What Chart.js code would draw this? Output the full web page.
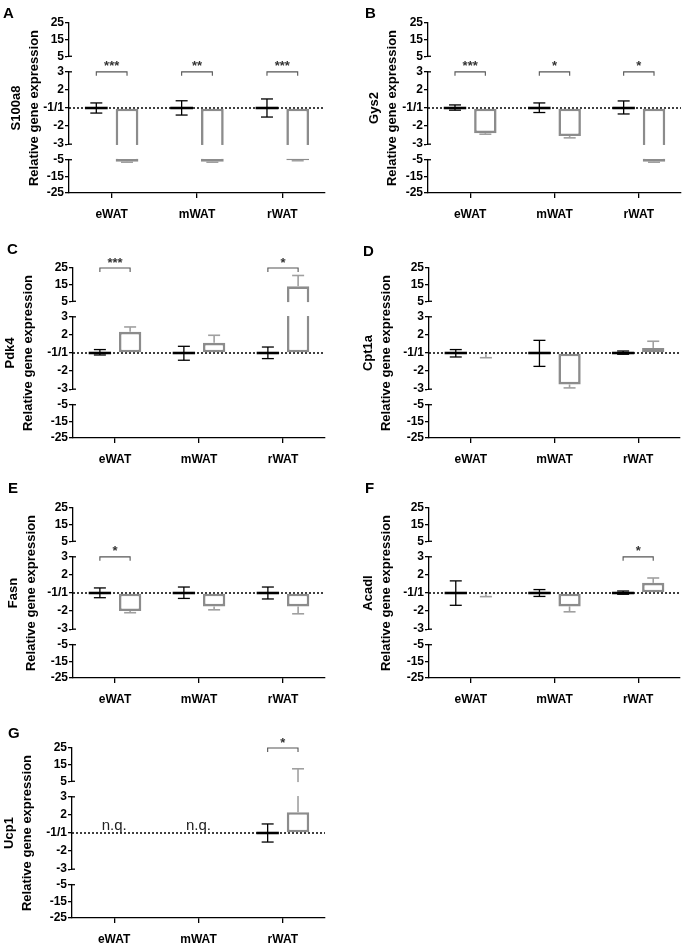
<!DOCTYPE html>
<html>
<head>
<meta charset="utf-8">
<script src="https://cdn.jsdelivr.net/npm/chart.js@4.4.1/dist/chart.umd.min.js"></script>
<style>
  body { margin: 0; background: #fff; width: 686px; height: 947px; overflow: hidden; position: relative; font-family: 'Liberation Sans', Arial, sans-serif; }
  canvas { position: absolute; }
  .letter { position: absolute; font-weight: bold; font-size: 15px; line-height: 15px; color: #000; }
</style>
</head>
<body>
<script>
const tissues = ['eWAT', 'mWAT', 'rWAT'];
const genes = ['S100a8', 'Gys2', 'Pdk4', 'Cpt1a', 'Fasn', 'Acadl', 'Ucp1'];
const letters = ['A', 'B', 'C', 'D', 'E', 'F', 'G'];
const yTicks = [25, 15, 5, 3, 2, 1, -2, -3, -5, -15, -25];

// control group (black): mean and error bar ends, fold change
const ctrlMean = [[1, 1, 1], [1, 1, 1], [1, 1, 1], [1, 1, 1], [1, 1, 1], [1, 1, 1], [null, null, 1]];
const ctrlUpper = [[1.28, 1.4, 1.5], [1.17, 1.28, 1.39], [1.19, 1.37, 1.33], [1.19, 1.7, 1.11], [1.28, 1.33, 1.33], [1.67, 1.19, 1.11], [null, null, 1.5]];
const ctrlLower = [[-1.28, -1.39, -1.5], [-1.12, -1.25, -1.33], [-1.11, -1.4, -1.31], [-1.22, -1.74, -1.07], [-1.26, -1.3, -1.33], [-1.68, -1.19, -1.07], [null, null, -1.5]];

// treated group (grey): mean and outer error bar end
const treatMean = [[-6.2, -6.2, -5.3], [-2.39, -2.55, -6.2], [2.17, 1.56, 14], [-1.07, -2.74, 1.28], [-2.0, -1.74, -1.74], [-1.07, -1.74, 1.56], [null, null, 2.15]];
const treatErr = [[-6.5, -6.5, -5.6], [-2.45, -2.65, -6.5], [2.44, 1.98, 20.5], [-1.26, -2.93, 1.65], [-2.09, -1.93, -2.15], [-1.2, -2.04, 1.83], [null, null, 12.5]];

const stars = [['***', '**', '***'], ['***', '*', '*'], ['***', '', '*'], ['', '', ''], ['*', '', ''], ['', '', '*'], ['', '', '*']];
const bracketAt = [3, 3, 25, null, 3, 3, 25];

// layout of the panels
const panelLeft = [0, 343, 0, 343, 0, 343, 0];
const panelTop = [0, 0, 245, 245, 485, 485, 725];
const axisX = [69, 85, 73, 86, 73, 86, 72];
const plotRight = [325, 338, 325, 337, 325, 337, 325];
const titleGap = [8, 23, 2, 17, 5, 17, 1];
const letterPos = [[3, 5], [365, 5], [7, 241], [363, 243], [8, 480], [365, 480], [8, 725]];

// broken axis: -3..3 linear (with -1/1 at 0), then 5..25 compressed
const BREAK_LOW = 2;
const BREAK_HIGH = 2.86;
const TOP_STEP = 0.092;
const AXIS_MAX = BREAK_HIGH + 20 * TOP_STEP;

function toAxis(v) {
    if (v === null) return null;
    const a = Math.abs(v), s = v < 0 ? -1 : 1;
    if (a <= 3) return s * (a - 1);
    return s * (BREAK_HIGH + (a - 5) * TOP_STEP);
}

function tickLabel(pos) {
    const v = yTicks.find(t => Math.abs(toAxis(t) - pos) < 1e-6);
    return v === 1 ? '-1/1' : String(v);
}

function seg(ctx, x1, y1, x2, y2) {
    ctx.beginPath(); ctx.moveTo(x1, y1); ctx.lineTo(x2, y2); ctx.stroke();
}

const extras = {
    id: 'extras',
    beforeDatasetsDraw(chart) {
        const { ctx, chartArea: a, scales: { y } } = chart;
        const y0 = y.getPixelForValue(0);
        ctx.save();
        ctx.strokeStyle = '#000';
        ctx.lineWidth = 1.5;
        ctx.setLineDash([2, 2]);
        seg(ctx, a.left, y0, a.right, y0);
        ctx.restore();
    },
    afterDatasetsDraw(chart, args, opts) {
        const p = opts.panel;
        const { ctx, chartArea: a, scales: { x, y } } = chart;
        const py = v => y.getPixelForValue(toAxis(v));
        const ctrlBars = chart.getDatasetMeta(0).data;
        const treatBars = chart.getDatasetMeta(1).data;
        ctx.save();

        // --- error bars ---
        tissues.forEach((t, i) => {
            if (ctrlMean[p][i] !== null) {
                const cx = ctrlBars[i].x;
                ctx.strokeStyle = '#000'; ctx.lineWidth = 1.3;
                const lo = py(ctrlLower[p][i]), hi = py(ctrlUpper[p][i]);
                seg(ctx, cx, lo, cx, hi);
                seg(ctx, cx - 6, lo, cx + 6, lo);
                seg(ctx, cx - 6, hi, cx + 6, hi);
            }
            if (treatMean[p][i] !== null) {
                const tx = treatBars[i].x;
                ctx.strokeStyle = '#a0a0a0'; ctx.lineWidth = 1.6;
                const m = py(treatMean[p][i]), e = py(treatErr[p][i]);
                seg(ctx, tx, m, tx, e);
                seg(ctx, tx - 6, e, tx + 6, e);
            }
        });

        // --- axis breaks ---
        ctx.fillStyle = '#fff';
        const bTop = y.getPixelForValue(BREAK_HIGH), bBot = y.getPixelForValue(BREAK_LOW);
        ctx.fillRect(a.left - 2, bTop + 0.8, a.right - a.left + 4, bBot - bTop - 1.6);
        const nTop = y.getPixelForValue(-BREAK_LOW), nBot = y.getPixelForValue(-BREAK_HIGH);
        ctx.fillRect(a.left - 2, nTop + 0.8, a.right - a.left + 4, nBot - nTop - 1.6);
        ctx.strokeStyle = '#000'; ctx.lineWidth = 1.3;
        [bTop, bBot, nTop, nBot].forEach(yy => seg(ctx, a.left - 1, yy, a.left + 3, yy));

        // --- significance brackets ---
        if (bracketAt[p] !== null) {
            const by = py(bracketAt[p]);
            tissues.forEach((t, i) => {
                if (!stars[p][i]) return;
                const x1 = ctrlBars[i].x, x2 = treatBars[i].x;
                ctx.strokeStyle = '#555'; ctx.lineWidth = 1.1;
                ctx.beginPath();
                ctx.moveTo(x1, by + 4); ctx.lineTo(x1, by); ctx.lineTo(x2, by); ctx.lineTo(x2, by + 4);
                ctx.stroke();
                ctx.fillStyle = '#333';
                ctx.font = "bold 13px 'Liberation Sans', Arial, sans-serif";
                ctx.textAlign = 'center';
                ctx.textBaseline = 'alphabetic';
                ctx.fillText(stars[p][i], (x1 + x2) / 2, by - 1.5);
            });
        }

        // --- not quantified ---
        tissues.forEach((t, i) => {
            if (ctrlMean[p][i] !== null) return;
            ctx.fillStyle = '#222';
            ctx.font = "15px 'Liberation Sans', Arial, sans-serif";
            ctx.textAlign = 'center';
            ctx.textBaseline = 'alphabetic';
            ctx.fillText('n.q.', x.getPixelForValue(i), y.getPixelForValue(0) - 3.5);
        });
        ctx.restore();
    }
};

Chart.defaults.font.family = "'Liberation Sans', Arial, sans-serif";

genes.forEach((gene, p) => {
    const canvas = document.createElement('canvas');
    canvas.width = 343;
    canvas.height = 225;
    canvas.style.left = panelLeft[p] + 'px';
    canvas.style.top = panelTop[p] + 'px';
    document.body.appendChild(canvas);

    const letter = document.createElement('div');
    letter.className = 'letter';
    letter.textContent = letters[p];
    letter.style.left = letterPos[p][0] + 'px';
    letter.style.top = letterPos[p][1] + 'px';
    document.body.appendChild(letter);

    new Chart(canvas, {
        type: 'bar',
        data: {
            labels: tissues,
            datasets: [
                {
                    data: ctrlMean[p].map(v => v === null ? null : [toAxis(v) - 0.07, toAxis(v) + 0.07]),
                    backgroundColor: '#000',
                    borderWidth: 0
                },
                {
                    data: treatMean[p].map(toAxis),
                    backgroundColor: '#fff',
                    borderColor: '#8c8c8c',
                    borderWidth: 2.6,
                    borderSkipped: false
                }
            ]
        },
        options: {
            responsive: false,
            animation: false,
            datasets: { bar: { categoryPercentage: 0.72, barPercentage: 0.74 } },
            layout: { padding: { top: 23, right: 343 - plotRight[p], left: 0, bottom: 0 } },
            plugins: {
                legend: { display: false },
                tooltip: { enabled: false },
                extras: { panel: p }
            },
            scales: {
                x: {
                    grid: { offset: false, drawOnChartArea: false, tickLength: 5, color: '#000', lineWidth: 1.3 },
                    border: { color: '#000', width: 1.3 },
                    ticks: { color: '#000', font: { size: 12, weight: 'bold' }, padding: 9 },
                    afterFit: s => { s.height = 32; }
                },
                y: {
                    min: -AXIS_MAX,
                    max: AXIS_MAX,
                    afterBuildTicks: s => { s.ticks = yTicks.map(v => ({ value: toAxis(v) })); },
                    ticks: { autoSkip: false, callback: v => tickLabel(v), color: '#000', font: { size: 12, weight: 'bold' }, padding: 1 },
                    grid: { drawOnChartArea: false, tickLength: 4, color: '#000', lineWidth: 1.3 },
                    border: { color: '#000', width: 1.3 },
                    title: {
                        display: true,
                        text: [gene, 'Relative gene expression'],
                        color: '#000',
                        font: { size: 13, weight: 'bold', lineHeight: 1.35 },
                        padding: { top: titleGap[p], bottom: 0 }
                    },
                    afterFit: s => { s.width = axisX[p]; }
                }
            }
        },
        plugins: [extras]
    });
});
</script>
</body>
</html>
